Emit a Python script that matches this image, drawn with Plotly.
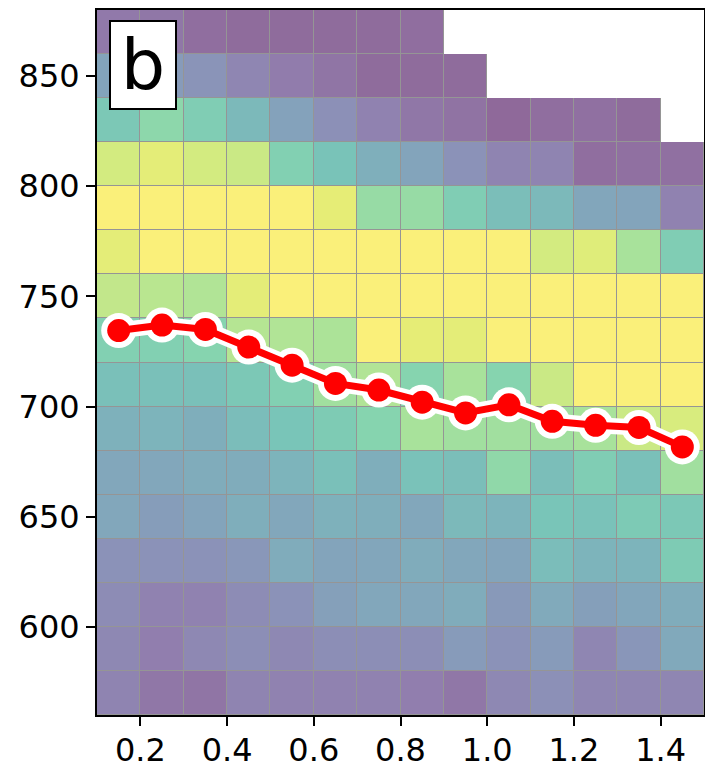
import plotly.graph_objects as go

# ---- data ----
x_centers = [0.15, 0.25, 0.35, 0.45, 0.55, 0.65, 0.75, 0.85, 0.95, 1.05, 1.15, 1.25, 1.35, 1.45]
y_centers = [570, 590, 610, 630, 650, 670, 690, 710, 730, 750, 770, 790, 810, 830, 850, 870]

N = None
z_570 = [0.13, 0.07, 0.06, 0.13, 0.12, 0.12, 0.12, 0.10, 0.07, 0.15, 0.19, 0.14, 0.14, 0.14]
z_590 = [0.15, 0.10, 0.15, 0.18, 0.15, 0.18, 0.18, 0.18, 0.25, 0.20, 0.25, 0.14, 0.22, 0.33]
z_610 = [0.17, 0.12, 0.12, 0.17, 0.20, 0.28, 0.32, 0.32, 0.35, 0.24, 0.34, 0.27, 0.31, 0.35]
z_630 = [0.20, 0.20, 0.20, 0.23, 0.35, 0.30, 0.31, 0.35, 0.32, 0.30, 0.45, 0.40, 0.40, 0.54]
z_650 = [0.32, 0.26, 0.30, 0.36, 0.32, 0.38, 0.36, 0.32, 0.43, 0.40, 0.50, 0.48, 0.53, 0.52]
z_670 = [0.32, 0.32, 0.35, 0.35, 0.40, 0.47, 0.36, 0.48, 0.46, 0.63, 0.46, 0.55, 0.47, 0.68]
z_690 = [0.38, 0.40, 0.36, 0.45, 0.50, 0.54, 0.60, 0.70, 0.68, 0.68, 0.68, 0.70, 0.78, 0.82]
z_710 = [0.47, 0.47, 0.47, 0.52, 0.57, 0.68, 0.72, 0.60, 0.70, 0.60, 0.78, 0.98, 0.98, 0.98]
z_730 = [0.57, 0.57, 0.60, 0.73, 0.72, 0.71, 0.98, 0.88, 0.87, 0.98, 0.98, 0.98, 0.98, 0.98]
z_750 = [0.76, 0.74, 0.72, 0.87, 0.98, 0.98, 0.98, 0.98, 0.98, 0.98, 0.98, 0.98, 0.98, 0.98]
z_770 = [0.87, 0.98, 0.98, 0.98, 0.98, 0.98, 0.98, 0.98, 0.98, 0.98, 0.80, 0.85, 0.70, 0.55]
z_790 = [0.98, 0.98, 0.98, 0.98, 0.98, 0.88, 0.65, 0.65, 0.55, 0.46, 0.43, 0.31, 0.30, 0.12]
z_810 = [0.80, 0.87, 0.80, 0.78, 0.57, 0.49, 0.37, 0.30, 0.20, 0.13, 0.13, 0.03, 0.04, 0.04]
z_830 = [0.52, 0.62, 0.55, 0.43, 0.29, 0.19, 0.12, 0.07, 0.05, 0.01, 0.03, 0.04, 0.02, N]
z_850 = [0.30, 0.25, 0.21, 0.14, 0.09, 0.06, 0.02, 0.02, 0.02, N, N, N, N, N]
z_870 = [0.08, 0.07, 0.03, 0.02, 0.02, 0.02, 0.02, 0.03, N, N, N, N, N, N]

line_x = x_centers
line_y = [734.5, 737.0, 735.0, 727.0, 718.8, 710.5, 707.5, 702.0, 697.1, 700.8, 693.3, 691.5, 690.5, 681.7]

x_ticks = [0.2, 0.4, 0.6, 0.8, 1.0, 1.2, 1.4]
y_ticks = [600, 650, 700, 750, 800, 850]
panel_label = "b"

# ---- build ----
z = [z_570, z_590, z_610, z_630, z_650, z_670, z_690, z_710,
     z_730, z_750, z_770, z_790, z_810, z_830, z_850, z_870]
mask = [[None if v is None else 1 for v in row] for row in z]

viridis_stops = ["#440154", "#482878", "#3e4a89", "#31688e", "#26828e", "#1f9e89",
                 "#35b779", "#6ece58", "#b5de2b", "#dde318", "#fde725"]
alpha = 0.6

def blend(h):
    r, g, b = int(h[1:3], 16), int(h[3:5], 16), int(h[5:7], 16)
    f = lambda c: round(c * alpha + 255 * (1 - alpha))
    return f"rgb({f(r)},{f(g)},{f(b)})"

cscale = [[i / (len(viridis_stops) - 1), blend(c)] for i, c in enumerate(viridis_stops)]

FONT = "DejaVu Sans"
fig = go.Figure()

fig.add_trace(go.Heatmap(x=x_centers, y=y_centers, z=mask,
                         colorscale=[[0, "#959595"], [1, "#959595"]],
                         showscale=False, hoverinfo="skip"))
fig.add_trace(go.Heatmap(x=x_centers, y=y_centers, z=z, colorscale=cscale,
                         zmin=0, zmax=1, xgap=1, ygap=1, showscale=False))

fig.add_trace(go.Scatter(x=line_x, y=line_y, mode="lines+markers",
                         line=dict(color="white", width=16),
                         marker=dict(color="white", size=35),
                         showlegend=False, hoverinfo="skip"))
fig.add_trace(go.Scatter(x=line_x, y=line_y, mode="lines+markers",
                         line=dict(color="red", width=7),
                         marker=dict(color="red", size=23),
                         showlegend=False))

axis_common = dict(showgrid=False, zeroline=False, showline=True, mirror=True,
                   linecolor="black", linewidth=2, ticks="outside", ticklen=9,
                   tickwidth=2, tickcolor="black", automargin=False,
                   tickfont=dict(family=FONT, size=32, color="black"))

fig.update_xaxes(range=[0.1, 1.5], tickvals=x_ticks, ticklabelstandoff=-3,
                 ticktext=[f"{v:.1f}" for v in x_ticks], **axis_common)
fig.update_yaxes(range=[560, 880], tickvals=y_ticks,
                 ticktext=[str(v) for v in y_ticks], **axis_common)

fig.add_annotation(text=panel_label, xref="paper", yref="paper",
                   x=0.0197, y=0.9858, xanchor="left", yanchor="top",
                   showarrow=False, bgcolor="white", bordercolor="black",
                   borderwidth=2, borderpad=2, width=60, height=82,
                   font=dict(family=FONT, size=70, color="black"))

fig.update_layout(width=705, height=768,
                  margin=dict(l=97, r=1, t=10, b=53),
                  paper_bgcolor="white", plot_bgcolor="white",
                  showlegend=False)

fig.write_html("out.html", config={"displayModeBar": False},
               post_script="document.body.style.margin='0';document.body.style.overflow='hidden';")
